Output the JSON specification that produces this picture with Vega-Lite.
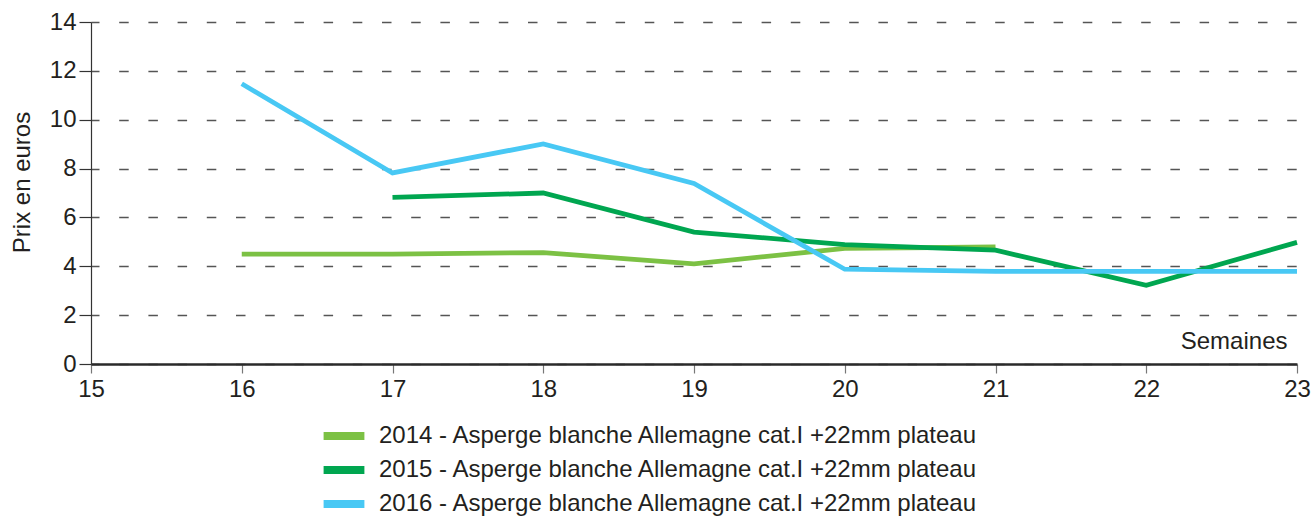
{
  "$schema": "https://vega.github.io/schema/vega-lite/v6.json",
  "autosize": {"type": "none"},
  "width": 1206,
  "height": 342,
  "padding": {"left": 91, "top": 22, "right": 15, "bottom": 152},
  "background": "white",
  "config": {
    "font": "Liberation Sans",
    "view": {"stroke": null}
  },
  "data": {
    "values": [
      {"semaine": 16, "serie": "2014 - Asperge blanche Allemagne cat.I +22mm plateau", "prix": 4.5},
      {"semaine": 17, "serie": "2014 - Asperge blanche Allemagne cat.I +22mm plateau", "prix": 4.5},
      {"semaine": 18, "serie": "2014 - Asperge blanche Allemagne cat.I +22mm plateau", "prix": 4.56},
      {"semaine": 19, "serie": "2014 - Asperge blanche Allemagne cat.I +22mm plateau", "prix": 4.1},
      {"semaine": 20, "serie": "2014 - Asperge blanche Allemagne cat.I +22mm plateau", "prix": 4.73},
      {"semaine": 21, "serie": "2014 - Asperge blanche Allemagne cat.I +22mm plateau", "prix": 4.79},
      {"semaine": 17, "serie": "2015 - Asperge blanche Allemagne cat.I +22mm plateau", "prix": 6.82},
      {"semaine": 18, "serie": "2015 - Asperge blanche Allemagne cat.I +22mm plateau", "prix": 7.0},
      {"semaine": 19, "serie": "2015 - Asperge blanche Allemagne cat.I +22mm plateau", "prix": 5.4},
      {"semaine": 20, "serie": "2015 - Asperge blanche Allemagne cat.I +22mm plateau", "prix": 4.89},
      {"semaine": 21, "serie": "2015 - Asperge blanche Allemagne cat.I +22mm plateau", "prix": 4.66},
      {"semaine": 22, "serie": "2015 - Asperge blanche Allemagne cat.I +22mm plateau", "prix": 3.22},
      {"semaine": 23, "serie": "2015 - Asperge blanche Allemagne cat.I +22mm plateau", "prix": 4.98},
      {"semaine": 16, "serie": "2016 - Asperge blanche Allemagne cat.I +22mm plateau", "prix": 11.47},
      {"semaine": 17, "serie": "2016 - Asperge blanche Allemagne cat.I +22mm plateau", "prix": 7.82},
      {"semaine": 18, "serie": "2016 - Asperge blanche Allemagne cat.I +22mm plateau", "prix": 9.01},
      {"semaine": 19, "serie": "2016 - Asperge blanche Allemagne cat.I +22mm plateau", "prix": 7.39},
      {"semaine": 20, "serie": "2016 - Asperge blanche Allemagne cat.I +22mm plateau", "prix": 3.88},
      {"semaine": 21, "serie": "2016 - Asperge blanche Allemagne cat.I +22mm plateau", "prix": 3.79},
      {"semaine": 22, "serie": "2016 - Asperge blanche Allemagne cat.I +22mm plateau", "prix": 3.79},
      {"semaine": 23, "serie": "2016 - Asperge blanche Allemagne cat.I +22mm plateau", "prix": 3.79}
    ]
  },
  "mark": {"type": "line", "strokeWidth": 4.8, "strokeJoin": "miter", "clip": false},
  "encoding": {
    "x": {
      "field": "semaine",
      "type": "quantitative",
      "scale": {"domain": [15, 23], "nice": false, "zero": false},
      "axis": {
        "title": "Semaines",
        "values": [15, 16, 17, 18, 19, 20, 21, 22, 23],
        "format": "d",
        "grid": false,
        "domainColor": "#2a2a2a",
        "domainWidth": 2.6,
        "tickColor": "#777",
        "tickWidth": 1.2,
        "tickSize": 9,
        "labelPadding": 4,
        "labelFontSize": 24,
        "labelColor": "#231f20",
        "labelFont": "Liberation Sans",
        "labelFlush": false,
        "titleFontSize": 24,
        "titleFontWeight": "normal",
        "titleColor": "#231f20",
        "titleFont": "Liberation Sans",
        "titleAnchor": "end",
        "titleAlign": "right",
        "titleBaseline": "alphabetic",
        "titleX": 1196,
        "titleY": -16
      }
    },
    "y": {
      "field": "prix",
      "type": "quantitative",
      "scale": {"domain": [0, 14], "nice": false},
      "axis": {
        "title": "Prix en euros",
        "values": [0, 2, 4, 6, 8, 10, 12, 14],
        "grid": true,
        "gridDash": [9.5, 19.7],
        "gridDashOffset": 1.5,
        "gridColor": "#555",
        "gridWidth": 1.3,
        "domainColor": "#333",
        "domainWidth": 1.2,
        "tickColor": "#333",
        "tickWidth": 1.2,
        "tickSize": 12,
        "labelPadding": 3,
        "labelFontSize": 24,
        "labelColor": "#231f20",
        "labelFont": "Liberation Sans",
        "labelFlush": false,
        "titleFontSize": 24,
        "titleFontWeight": "normal",
        "titleColor": "#231f20",
        "titleFont": "Liberation Sans",
        "titleAnchor": "middle",
        "titleAngle": -90,
        "titleAlign": "center",
        "titleBaseline": "alphabetic",
        "titleX": -62,
        "titleY": 160
      }
    },
    "color": {
      "field": "serie",
      "type": "nominal",
      "scale": {
        "domain": [
          "2014 - Asperge blanche Allemagne cat.I +22mm plateau",
          "2015 - Asperge blanche Allemagne cat.I +22mm plateau",
          "2016 - Asperge blanche Allemagne cat.I +22mm plateau"
        ],
        "range": ["#7cc144", "#00a650", "#48c8f4"]
      },
      "legend": {
        "title": null,
        "orient": "none",
        "legendX": 232,
        "legendY": 399,
        "direction": "vertical",
        "symbolType": "M-1.2,0H1.2",
        "symbolSize": 1156,
        "symbolStrokeWidth": 8,
        "symbolOpacity": 1,
        "labelFontSize": 24,
        "labelFont": "Liberation Sans",
        "labelColor": "#231f20",
        "labelOffset": 14,
        "labelLimit": 0,
        "clipHeight": 30,
        "rowPadding": 4,
        "padding": 0
      }
    }
  }
}
